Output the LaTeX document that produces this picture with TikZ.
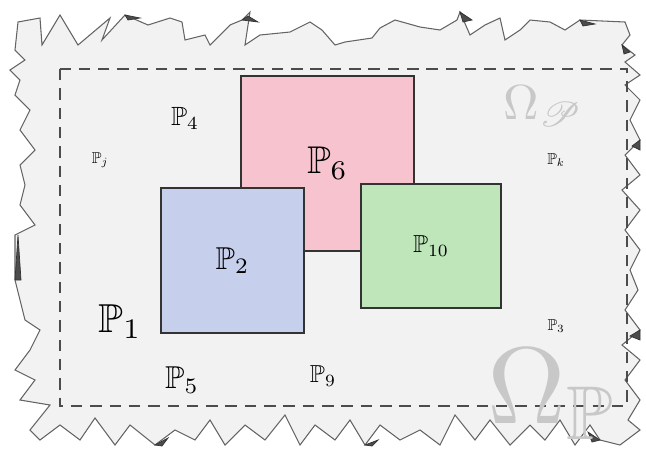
\documentclass[tikz,border=0pt]{standalone}
\usepackage{amssymb}
\usepackage{mathrsfs}
\definecolor{bgpaper}{RGB}{242, 242, 242}
\definecolor{roughline}{RGB}{100, 100, 100}
\definecolor{pinkset}{RGB}{247, 195, 207}
\definecolor{blueset}{RGB}{198, 208, 236}
\definecolor{greenset}{RGB}{191, 230, 187}
\definecolor{omegagray}{RGB}{200, 200, 200}
\tikzset{
	rough/.style={draw=roughline, fill=bgpaper, line width=0.6pt, line join=miter},
	spike/.style={draw=black!80, fill=black!70, line width=0.4pt},
	frame/.style={draw=black!70, dashed, dash pattern=on 6.5pt off 4.5pt, line width=1.1pt},
	subset/.style={rectangle, draw=black!80, line width=0.7pt, inner sep=0pt},
	plabel/.style={text=black, inner sep=1pt},
	omega/.style={text=omegagray, inner sep=0pt},
}
\newcommand{\pl}[2]{\scalebox{#1}{$#2$}}

\begin{document}
\begin{tikzpicture}[x=0.02cm, y=-0.02cm]
	\useasboundingbox (0,0) rectangle (646,461);
	% outer region
	\draw[rough] (18,22) -- (40,18) -- (42,45) -- (60,15) -- (78,45) -- (110,18) -- (102,40) -- (125,15)
		-- (148,25) -- (170,18) -- (182,22) -- (185,40) -- (205,35) -- (210,45) -- (230,25) -- (242,20)
		-- (250,12) -- (245,45) -- (260,35) -- (290,32) -- (310,22) -- (322,30) -- (335,45) -- (345,42)
		-- (372,38) -- (380,28) -- (395,20) -- (420,27) -- (440,30) -- (457,20) -- (460,12) -- (470,35)
		-- (485,25) -- (500,18) -- (505,40) -- (520,30) -- (530,20) -- (550,22) -- (565,30) -- (580,20)
		-- (625,22) -- (630,35) -- (622,45) -- (635,55) -- (625,62) -- (640,75) -- (625,85) -- (640,100)
		-- (630,120) -- (640,140) -- (625,155) -- (640,175) -- (622,190) -- (640,210) -- (625,230)
		-- (640,250) -- (630,270) -- (638,290) -- (625,310) -- (640,330) -- (622,345) -- (640,360)
		-- (625,380) -- (640,400) -- (628,420) -- (640,430) -- (620,445) -- (600,440) -- (590,425)
		-- (575,445) -- (560,420) -- (545,440) -- (530,425) -- (510,445) -- (490,420) -- (475,440)
		-- (455,415) -- (440,445) -- (420,430) -- (400,440) -- (380,425) -- (365,445) -- (350,420)
		-- (335,440) -- (315,425) -- (300,445) -- (285,415) -- (265,440) -- (245,425) -- (225,445)
		-- (210,420) -- (195,440) -- (175,430) -- (155,445) -- (130,425) -- (115,445) -- (95,418)
		-- (80,440) -- (60,425) -- (40,440) -- (30,430) -- (50,405) -- (20,400) -- (35,380) -- (15,370)
		-- (30,350) -- (40,330) -- (25,320) -- (20,300) -- (15,280) -- (15,235) -- (35,225) -- (20,205)
		-- (25,185) -- (20,165) -- (35,150) -- (20,130) -- (30,110) -- (15,95) -- (20,80) -- (10,70)
		-- (25,60) -- (15,50) -- cycle;
	% dark slivers on the edge
	\foreach \xa/\ya/\xb/\yb/\xc/\yc in {125/15/140/18/128/20, 242/20/258/22/248/16, 460/12/472/20/463/22,
		580/20/595/24/583/26, 622/45/630/52/624/54, 640/140/632/146/640/150,
		640/330/630/336/640/340, 15/280/18/235/21/280, 600/440/588/432/592/442,
		155/445/168/438/162/446, 365/445/378/440/372/446}
		\draw[spike] (\xa,\ya) -- (\xb,\yb) -- (\xc,\yc) -- cycle;
	\draw[frame] (60,69) rectangle (627,406);
	% sets
	\node[subset, fill=pinkset, minimum width=3.46cm, minimum height=3.5cm] (p6) at (327.5,163.5) {\pl{2.2}{\mathbb{P}_6}};
	\node[subset, fill=blueset, minimum width=2.86cm, minimum height=2.9cm] (p2) at (232.5,260.5) {\pl{1.8}{\mathbb{P}_2}};
	\node[subset, fill=greenset, minimum width=2.8cm, minimum height=2.48cm] (p10) at (431,246) {\pl{1.4}{\mathbb{P}_{10}}};
	% loose labels
	\node[plabel] (p4) at (185,118) {\pl{1.5}{\mathbb{P}_4}};
	\node[plabel] (pj) at (100,160) {\pl{0.9}{\mathbb{P}_j}};
	\node[plabel] (pk) at (556,160) {\pl{0.9}{\mathbb{P}_k}};
	\node[plabel] (p1) at (120,322) {\pl{2.3}{\mathbb{P}_1}};
	\node[plabel] (p3) at (556,326) {\pl{0.9}{\mathbb{P}_3}};
	\node[plabel] (p5) at (182,380) {\pl{1.8}{\mathbb{P}_5}};
	\node[plabel] (p9) at (323,376) {\pl{1.4}{\mathbb{P}_9}};
	% region names
	\node[omega] (omsmall) at (543,106) {\pl{2.8}{\Omega_{\mathscr{P}}}};
	\node[omega] (ombig) at (553,394) {\pl{6.2}{\Omega_{\mathbb{P}}}};
\end{tikzpicture}
\end{document}
